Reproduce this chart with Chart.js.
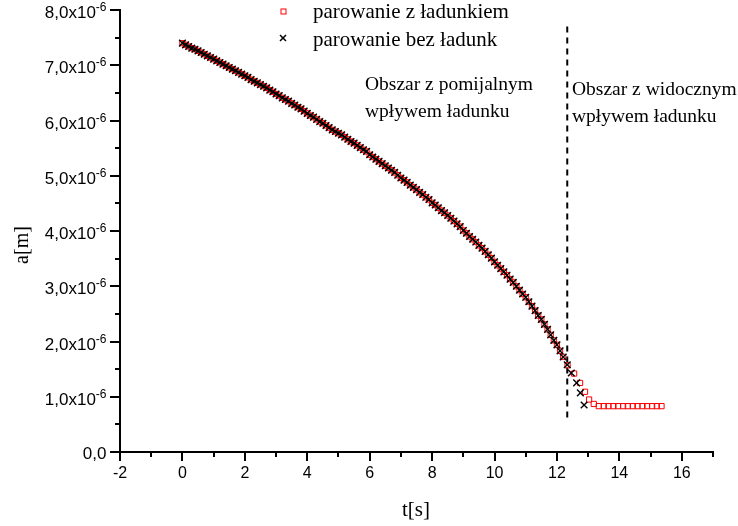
<!DOCTYPE html>
<html>
<head>
<meta charset="utf-8">
<script src="https://cdn.jsdelivr.net/npm/chart.js@4"></script>
<style>
  html, body { margin: 0; padding: 0; background: #fff; }
  #wrap { width: 738px; height: 526px; position: relative; }
</style>
</head>
<body>
<div id="wrap"><canvas id="chart"></canvas></div>
<script>
// radius in units of 1e-6 m, time in s
const timeShared = [
  0, 0.1, 0.2, 0.3, 0.4, 0.5, 0.6, 0.7, 0.8, 0.9,
  1.0, 1.1, 1.2, 1.3, 1.4, 1.5, 1.6, 1.7, 1.8, 1.9,
  2.0, 2.1, 2.2, 2.3, 2.4, 2.5, 2.6, 2.7, 2.8, 2.9,
  3.0, 3.1, 3.2, 3.3, 3.4, 3.5, 3.6, 3.7, 3.8, 3.9,
  4.0, 4.1, 4.2, 4.3, 4.4, 4.5, 4.6, 4.7, 4.8, 4.9,
  5.0, 5.1, 5.2, 5.3, 5.4, 5.5, 5.6, 5.7, 5.8, 5.9,
  6.0, 6.1, 6.2, 6.3, 6.4, 6.5, 6.6, 6.7, 6.8, 6.9,
  7.0, 7.1, 7.2, 7.3, 7.4, 7.5, 7.6, 7.7, 7.8, 7.9,
  8.0, 8.1, 8.2, 8.3, 8.4, 8.5, 8.6, 8.7, 8.8, 8.9,
  9.0, 9.1, 9.2, 9.3, 9.4, 9.5, 9.6, 9.7, 9.8, 9.9,
  10.0, 10.1, 10.2, 10.3, 10.4, 10.5, 10.6, 10.7, 10.8, 10.9,
  11.0, 11.1, 11.2, 11.3, 11.4, 11.5, 11.6, 11.7, 11.8, 11.9,
  12.0, 12.1, 12.2,
];
const radiusShared = [
  7.40, 7.37, 7.34, 7.31, 7.29, 7.26, 7.23, 7.20, 7.17, 7.14,
  7.11, 7.08, 7.05, 7.02, 6.99, 6.96, 6.93, 6.90, 6.87, 6.84,
  6.81, 6.78, 6.74, 6.71, 6.68, 6.65, 6.62, 6.59, 6.55, 6.52,
  6.48, 6.45, 6.41, 6.38, 6.35, 6.31, 6.28, 6.24, 6.21, 6.17,
  6.13, 6.09, 6.06, 6.02, 5.98, 5.95, 5.91, 5.87, 5.83, 5.80,
  5.77, 5.74, 5.70, 5.66, 5.62, 5.59, 5.55, 5.51, 5.47, 5.44,
  5.38, 5.34, 5.30, 5.26, 5.22, 5.18, 5.14, 5.10, 5.06, 5.01,
  4.96, 4.92, 4.88, 4.83, 4.79, 4.75, 4.70, 4.66, 4.61, 4.57,
  4.51, 4.47, 4.42, 4.37, 4.33, 4.28, 4.23, 4.18, 4.13, 4.08,
  4.01, 3.96, 3.90, 3.85, 3.80, 3.74, 3.69, 3.63, 3.57, 3.51,
  3.44, 3.38, 3.32, 3.26, 3.20, 3.13, 3.07, 3.00, 2.93, 2.86,
  2.80, 2.72, 2.64, 2.56, 2.47, 2.40, 2.31, 2.22, 2.12, 2.02,
  1.94, 1.83, 1.72,
];
const timeTailCharged = [
  12.34, 12.55, 12.74, 12.90, 13.03, 13.18, 13.34, 13.50, 13.65, 13.81,
  13.96, 14.12, 14.27, 14.43, 14.58, 14.74, 14.89, 15.05, 15.20, 15.35,
];
const radiusTailCharged = [
  1.57, 1.42, 1.25, 1.09, 0.95, 0.87, 0.83, 0.83, 0.83, 0.83,
  0.83, 0.83, 0.83, 0.83, 0.83, 0.83, 0.83, 0.83, 0.83, 0.83,
];
const timeTailPlain = [12.33, 12.46, 12.63, 12.75, 12.87];
const radiusTailPlain = [1.58, 1.43, 1.25, 1.07, 0.85];

const boundaryTime = 12.33;
const boundaryRadius = [0.57, 7.7];

const X_MIN = -2;
const X_MAX = 17;
const Y_MIN = 0;
const Y_MAX = 8;
const yTickValues = [0, 1, 2, 3, 4, 5, 6, 7, 8];

const seriesLabels = ['parowanie z ładunkiem', 'parowanie bez ładunk'];
const regionLabels = [
  ['Obszar z pomijalnym', 'wpływem ładunku'],
  ['Obszar z widocznym', 'wpływem ładunku'],
];

const SANS = '"Liberation Sans", Arial, sans-serif';
const SERIF = '"Liberation Serif", "Times New Roman", serif';

function toPoints(ts, rs) {
  return ts.map((t, i) => ({ x: t, y: rs[i] }));
}

const plainPoints = toPoints(timeShared.concat(timeTailPlain), radiusShared.concat(radiusTailPlain));
const chargedPoints = toPoints(timeShared.concat(timeTailCharged), radiusShared.concat(radiusTailCharged));

const decor = {
  id: 'decor',
  afterDraw(chart) {
    const ctx = chart.ctx;
    const xs = chart.scales.x;
    const ys = chart.scales.y;
    const left = chart.chartArea.left;
    const bottom = chart.chartArea.bottom;
    ctx.save();
    ctx.strokeStyle = '#000';
    ctx.fillStyle = '#000';
    ctx.lineWidth = 2;

    // tick marks, minor ones shorter
    for (let v = X_MIN; v <= X_MAX; v++) {
      const px = Math.round(xs.getPixelForValue(v));
      const len = v % 2 === 0 ? 9 : 5;
      ctx.beginPath();
      ctx.moveTo(px, bottom);
      ctx.lineTo(px, bottom + len);
      ctx.stroke();
    }
    for (let i = Y_MIN * 2; i <= Y_MAX * 2; i++) {
      const py = Math.round(ys.getPixelForValue(i / 2));
      const len = i % 2 === 0 ? 10 : 5;
      ctx.beginPath();
      ctx.moveTo(left, py);
      ctx.lineTo(left - len, py);
      ctx.stroke();
    }

    // y labels with superscript exponent
    const labelRight = 106.5;
    ctx.textAlign = 'right';
    ctx.textBaseline = 'alphabetic';
    yTickValues.forEach((v) => {
      const py = ys.getPixelForValue(v);
      if (v === 0) {
        ctx.font = '17px ' + SANS;
        ctx.fillText('0,0', labelRight, py + 7);
        return;
      }
      ctx.font = '12px ' + SANS;
      const sup = '-6';
      const supW = ctx.measureText(sup).width;
      ctx.fillText(sup, labelRight, py + 1);
      ctx.font = '17px ' + SANS;
      ctx.fillText(v + ',0x10', labelRight - supW, py + 8);
    });

    // axis titles
    ctx.font = '21px ' + SERIF;
    ctx.textAlign = 'center';
    ctx.fillText('t[s]', 416, 516);
    ctx.save();
    ctx.translate(28, 245);
    ctx.rotate(-Math.PI / 2);
    ctx.font = '20px ' + SERIF;
    ctx.fillText('a[m]', 0, 0);
    ctx.restore();

    // legend
    ctx.textAlign = 'left';
    ctx.font = '21px ' + SERIF;
    ctx.strokeStyle = '#ff0000';
    ctx.lineWidth = 1;
    ctx.strokeRect(281, 9, 5, 5);
    ctx.fillText(seriesLabels[0], 313, 18);
    ctx.strokeStyle = '#000';
    ctx.lineWidth = 1.5;
    ctx.beginPath();
    ctx.moveTo(280, 35);
    ctx.lineTo(286, 41);
    ctx.moveTo(286, 35);
    ctx.lineTo(280, 41);
    ctx.stroke();
    ctx.fillText(seriesLabels[1], 313, 46);

    // region notes
    ctx.font = '19.5px ' + SERIF;
    ctx.fillText(regionLabels[0][0], 365, 90);
    ctx.fillText(regionLabels[0][1], 365, 117);
    ctx.fillText(regionLabels[1][0], 572, 95);
    ctx.fillText(regionLabels[1][1], 572, 122);
    ctx.restore();
  },
};

new Chart(document.getElementById('chart'), {
  type: 'scatter',
  data: {
    datasets: [
      {
        label: seriesLabels[1],
        data: plainPoints,
        pointStyle: 'crossRot',
        pointRadius: 4.7,
        borderColor: '#000',
        borderWidth: 1.4,
        showLine: false,
      },
      {
        label: seriesLabels[0],
        data: chargedPoints,
        pointStyle: 'rect',
        pointRadius: 3.7,
        borderColor: '#ff0000',
        backgroundColor: 'rgba(0,0,0,0)',
        borderWidth: 1,
        showLine: false,
      },
      {
        label: 'granica',
        data: [
          { x: boundaryTime, y: boundaryRadius[1] },
          { x: boundaryTime, y: boundaryRadius[0] },
        ],
        showLine: true,
        borderColor: '#000',
        borderWidth: 2,
        borderDash: [6, 5],
        pointRadius: 0,
      },
    ],
  },
  options: {
    responsive: true,
    maintainAspectRatio: false,
    animation: false,
    layout: { padding: { top: 10, right: 25, bottom: 0, left: 0 } },
    plugins: {
      legend: { display: false },
      tooltip: { enabled: false },
    },
    scales: {
      x: {
        type: 'linear',
        min: X_MIN,
        max: X_MAX,
        grid: { drawOnChartArea: false, drawTicks: false },
        border: { color: '#000', width: 2 },
        ticks: {
          stepSize: 1,
          autoSkip: false,
          maxRotation: 0,
          padding: 12,
          color: '#000',
          font: { family: SANS, size: 16 },
          callback: (v) => (v % 2 === 0 ? String(v) : ''),
        },
        afterFit(scale) {
          scale.height = 74;
        },
      },
      y: {
        type: 'linear',
        min: Y_MIN,
        max: Y_MAX,
        grid: { drawOnChartArea: false, drawTicks: false },
        border: { color: '#000', width: 2 },
        ticks: { display: false, stepSize: 0.5 },
        afterFit(scale) {
          scale.width = 120;
        },
      },
    },
  },
  plugins: [decor],
});
</script>
</body>
</html>
